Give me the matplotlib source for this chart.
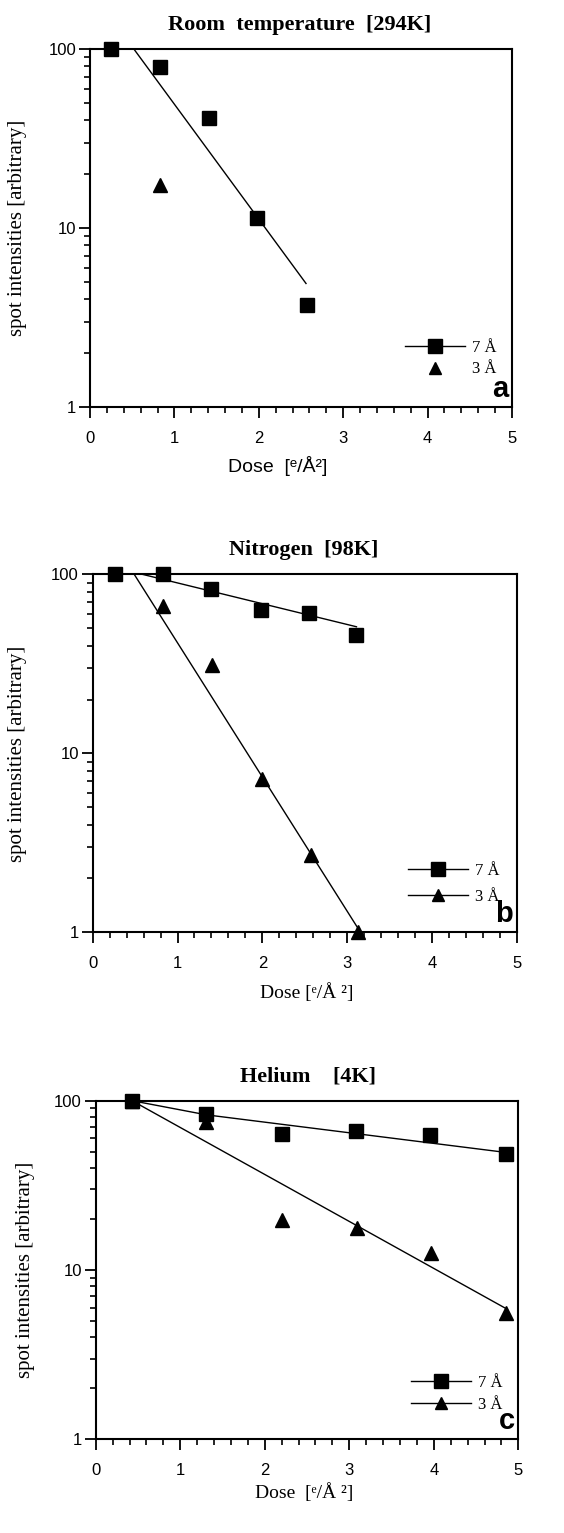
import matplotlib
matplotlib.use('Agg')
import matplotlib.pyplot as plt
from matplotlib.lines import Line2D
from matplotlib.ticker import MultipleLocator, LogLocator, NullFormatter, FixedFormatter, FixedLocator

serif = ['Liberation Serif', 'DejaVu Serif']
sans = ['Liberation Sans', 'DejaVu Sans']

# panel a: room temperature
dose_a_7 = [0.25, 0.83, 1.41, 1.98, 2.57]
int_a_7 = [100, 79, 41, 11.4, 3.7]
dose_a_3 = [0.83]
int_a_3 = [17.5]
fit_a_7_x = [0.52, 2.56]
fit_a_7_y = [100, 4.9]

# panel b: nitrogen
dose_b_7 = [0.26, 0.83, 1.40, 1.98, 2.55, 3.11]
int_b_7 = [100, 100, 83, 63, 61, 46]
dose_b_3 = [0.83, 1.41, 2.00, 2.57, 3.13]
int_b_3 = [67, 31, 7.2, 2.7, 1.0]
fit_b_7_x = [0.59, 3.11]
fit_b_7_y = [100, 51]
fit_b_3_x = [0.49, 3.13]
fit_b_3_y = [100, 1.05]

# panel c: helium
dose_c_7 = [0.43, 1.31, 2.20, 3.08, 3.96, 4.85]
int_c_7 = [100, 84, 64, 66, 63, 48.5]
dose_c_3 = [0.43, 1.31, 2.20, 3.09, 3.97, 4.86]
int_c_3 = [100, 75, 19.7, 17.6, 12.6, 5.6]
fit_c_7_x = [0.43, 1.31, 4.85]
fit_c_7_y = [100, 82.5, 49.5]
fit_c_3_x = [0.43, 4.86]
fit_c_3_y = [100, 5.9]

labels = ['7 Å', '3 Å']
ytick_vals = [1, 10, 100]
ytick_labels = ['1', '10', '100']

fig = plt.figure(figsize=(5.64, 15.33), dpi=100)
ax_a = fig.add_axes([0.1596, 0.7345, 0.748, 0.2335])
ax_b = fig.add_axes([0.1644, 0.3918, 0.7518, 0.2335])
ax_c = fig.add_axes([0.1697, 0.0611, 0.7493, 0.2209])


def setup(ax):
    ax.set_yscale('log')
    ax.set_xlim(0, 5)
    ax.set_ylim(1, 100)
    ax.xaxis.set_major_locator(MultipleLocator(1))
    ax.xaxis.set_minor_locator(MultipleLocator(0.2))
    ax.yaxis.set_major_locator(FixedLocator(ytick_vals))
    ax.yaxis.set_major_formatter(FixedFormatter(ytick_labels))
    ax.yaxis.set_minor_locator(LogLocator(base=10, subs=range(2, 10)))
    ax.yaxis.set_minor_formatter(NullFormatter())
    for s in ax.spines.values():
        s.set_linewidth(1.5)
    ax.tick_params(which='major', direction='out', length=8, width=1.3, labelsize=12)
    ax.tick_params(which='minor', direction='out', length=4.5, width=1.2)
    ax.tick_params(axis='x', which='major', pad=9)
    ax.tick_params(axis='y', which='major', pad=2)
    for lab in ax.get_xticklabels() + ax.get_yticklabels():
        lab.set_family(sans)


def mark(ax, x, y, m):
    ax.plot(x, y, linestyle='none', marker=m, ms=9.5, color='k', clip_on=False, zorder=3)


def fit(ax, x, y):
    ax.plot(x, y, color='k', lw=1.0)


def legend(ax, xa, ya, tri_line, spacing):
    h7 = Line2D([], [], color='k', lw=1.0, marker='s', ms=9.5)
    h3 = Line2D([], [], color='k', lw=1.0 if tri_line else 0, linestyle='-' if tri_line else 'none',
                marker='^', ms=9)
    ax.legend([h7, h3], labels, loc='center left', bbox_to_anchor=(xa, ya), frameon=False,
              borderpad=0, handlelength=3.6, handletextpad=0.4, labelspacing=spacing,
              prop={'family': serif, 'size': 12})


for ax in (ax_a, ax_b, ax_c):
    setup(ax)

# a
fit(ax_a, fit_a_7_x, fit_a_7_y)
mark(ax_a, dose_a_7, int_a_7, 's')
mark(ax_a, dose_a_3, int_a_3, '^')
legend(ax_a, 0.727, 0.1355, False, 0.35)
ax_a.text(0.498, 1.067, 'Room  temperature  [294K]', transform=ax_a.transAxes, ha='center', va='center',
          fontsize=16, fontweight='bold', family=serif)
ax_a.text(0.992, 0.012, 'a', transform=ax_a.transAxes, ha='right', va='bottom',
          fontsize=21, fontweight='bold', family=sans)
ax_a.set_xlabel('Dose  [ᵉ/Å²]', fontsize=14, family=sans)
ax_a.xaxis.set_label_coords(0.446, -0.137)
ax_a.set_ylabel('spot intensities [arbitrary]', fontsize=15, family=serif)
ax_a.yaxis.set_label_coords(-0.149, 0.5)

# b
fit(ax_b, fit_b_7_x, fit_b_7_y)
fit(ax_b, fit_b_3_x, fit_b_3_y)
mark(ax_b, dose_b_7, int_b_7, 's')
mark(ax_b, dose_b_3, int_b_3, '^')
legend(ax_b, 0.725, 0.135, True, 0.6)
ax_b.text(0.498, 1.068, 'Nitrogen  [98K]', transform=ax_b.transAxes, ha='center', va='center',
          fontsize=16, fontweight='bold', family=serif)
ax_b.text(0.992, 0.012, 'b', transform=ax_b.transAxes, ha='right', va='bottom',
          fontsize=21, fontweight='bold', family=sans)
ax_b.set_xlabel('Dose [ᵉ/Å ²]', fontsize=14, family=serif)
ax_b.xaxis.set_label_coords(0.505, -0.142)
ax_b.set_ylabel('spot intensities [arbitrary]', fontsize=15, family=serif)
ax_b.yaxis.set_label_coords(-0.155, 0.5)

# c
fit(ax_c, fit_c_7_x, fit_c_7_y)
fit(ax_c, fit_c_3_x, fit_c_3_y)
mark(ax_c, dose_c_7, int_c_7, 's')
mark(ax_c, dose_c_3, int_c_3, '^')
legend(ax_c, 0.727, 0.134, True, 0.4)
ax_c.text(0.502, 1.07, 'Helium    [4K]', transform=ax_c.transAxes, ha='center', va='center',
          fontsize=16, fontweight='bold', family=serif)
ax_c.text(0.992, 0.012, 'c', transform=ax_c.transAxes, ha='right', va='bottom',
          fontsize=21, fontweight='bold', family=sans)
ax_c.set_xlabel('Dose  [ᵉ/Å ²]', fontsize=14, family=serif)
ax_c.xaxis.set_label_coords(0.493, -0.129)
ax_c.set_ylabel('spot intensities [arbitrary]', fontsize=15, family=serif)
ax_c.yaxis.set_label_coords(-0.144, 0.5)

plt.savefig('out.png', dpi=100)
